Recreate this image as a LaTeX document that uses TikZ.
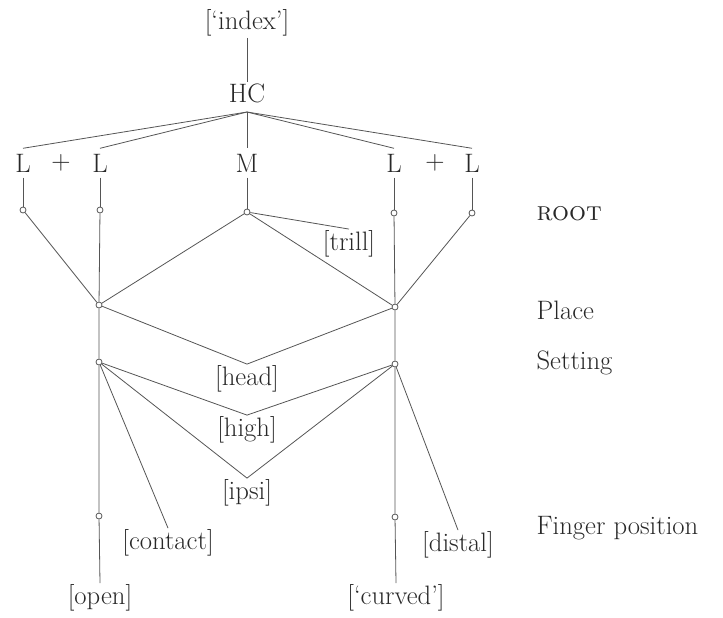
\documentclass[tikz,border=0pt]{standalone}
\usepackage{tikz}
\usepackage{color}
\usetikzlibrary{shapes}

\definecolor{inkline}{RGB}{85,85,85}
\definecolor{inktext}{RGB}{40,40,40}

\tikzset{
  lbl/.style={font=\fontsize{20}{24}\selectfont, text=inktext, inner sep=1pt},
  lett/.style={lbl, inner sep=4pt},
  knot/.style={circle, draw=inkline, fill=white, line width=0.6pt, inner sep=0pt, minimum size=4.5pt},
  ln/.style={draw=inkline, line width=0.6pt},
}

\begin{document}
\begin{tikzpicture}[x=0.75pt,y=0.75pt,yscale=-1,xscale=1]
\useasboundingbox (0,0) rectangle (723,617);

%Top: index and HC
\node [lbl] (idx) at (247,23) {[`index']};
\node [lbl] (hc) at (247,93) {HC};
\coordinate (hcb) at (247,112);

%Row of L + L  M  L + L
\node [lett] (la) at (23,163) {L};
\node [lbl] (pa) at (61,163) {+};
\node [lett] (lb) at (100,163) {L};
\node [lett] (m) at (247,163) {M};
\node [lett] (lc) at (394,163) {L};
\node [lbl] (pb) at (435,163) {+};
\node [lett] (ld) at (472,163) {L};

%Root knots
\node [knot] (ka) at (23,210) {};
\node [knot] (kb) at (100,210) {};
\node [knot] (km) at (247,212) {};
\node [knot] (kc) at (394,213) {};
\node [knot] (kd) at (472,213) {};

%Place, Setting, Finger position knots
\node [knot] (placel) at (99,305) {};
\node [knot] (placer) at (395,307) {};
\node [knot] (setl) at (99,362) {};
\node [knot] (setr) at (395,364) {};
\node [knot] (fingl) at (99,516) {};
\node [knot] (fingr) at (395,517) {};

%Feature labels
\node [lbl] (trill) at (349,244) {[trill]};
\node [lbl] (head) at (247,379) {[head]};
\node [lbl] (high) at (247,430) {[high]};
\node [lbl] (ipsi) at (247,493) {[ipsi]};
\node [lbl] (contact) at (168,543) {[contact]};
\node [lbl] (distal) at (458,545) {[distal]};
\node [lbl] (open) at (100,598) {[open]};
\node [lbl] (curved) at (396,598) {[`curved']};

%Tier names
\node [lbl, anchor=west] (troot) at (535,214) {\textsc{root}};
\node [lbl, anchor=west] (tplace) at (535,310) {Place};
\node [lbl, anchor=west] (tset) at (535,363) {Setting};
\node [lbl, anchor=west] (tfing) at (535,528) {Finger position};

%Lines from the top
\draw [ln] (idx) -- (hc);
\draw [ln] (hcb) -- (la.north);
\draw [ln] (hcb) -- (lb.north);
\draw [ln] (hcb) -- (m.north);
\draw [ln] (hcb) -- (lc.north);
\draw [ln] (hcb) -- (ld.north);

%Lines down to the root knots
\draw [ln] (la) -- (ka);
\draw [ln] (lb) -- (kb);
\draw [ln] (m) -- (km);
\draw [ln] (lc) -- (kc);
\draw [ln] (ld) -- (kd);

%Left and right spines
\draw [ln] (kb) -- (placel) -- (setl) -- (fingl) -- (open.north);
\draw [ln] (kc) -- (placer) -- (setr) -- (fingr) -- (curved.north);

%Links to the place knots
\draw [ln] (ka) -- (placel);
\draw [ln] (kd) -- (placer);
\draw [ln] (km) -- (placel);
\draw [ln] (km) -- (placer);
\draw [ln] (km) -- (trill.north);

%Shared features
\draw [ln] (placel) -- (head.north) -- (placer);
\draw [ln] (setl) -- (high.north) -- (setr);
\draw [ln] (setl) -- (ipsi.north) -- (setr);
\draw [ln] (setl) -- (contact.north);
\draw [ln] (setr) -- (distal.north);

\end{tikzpicture}
\end{document}
